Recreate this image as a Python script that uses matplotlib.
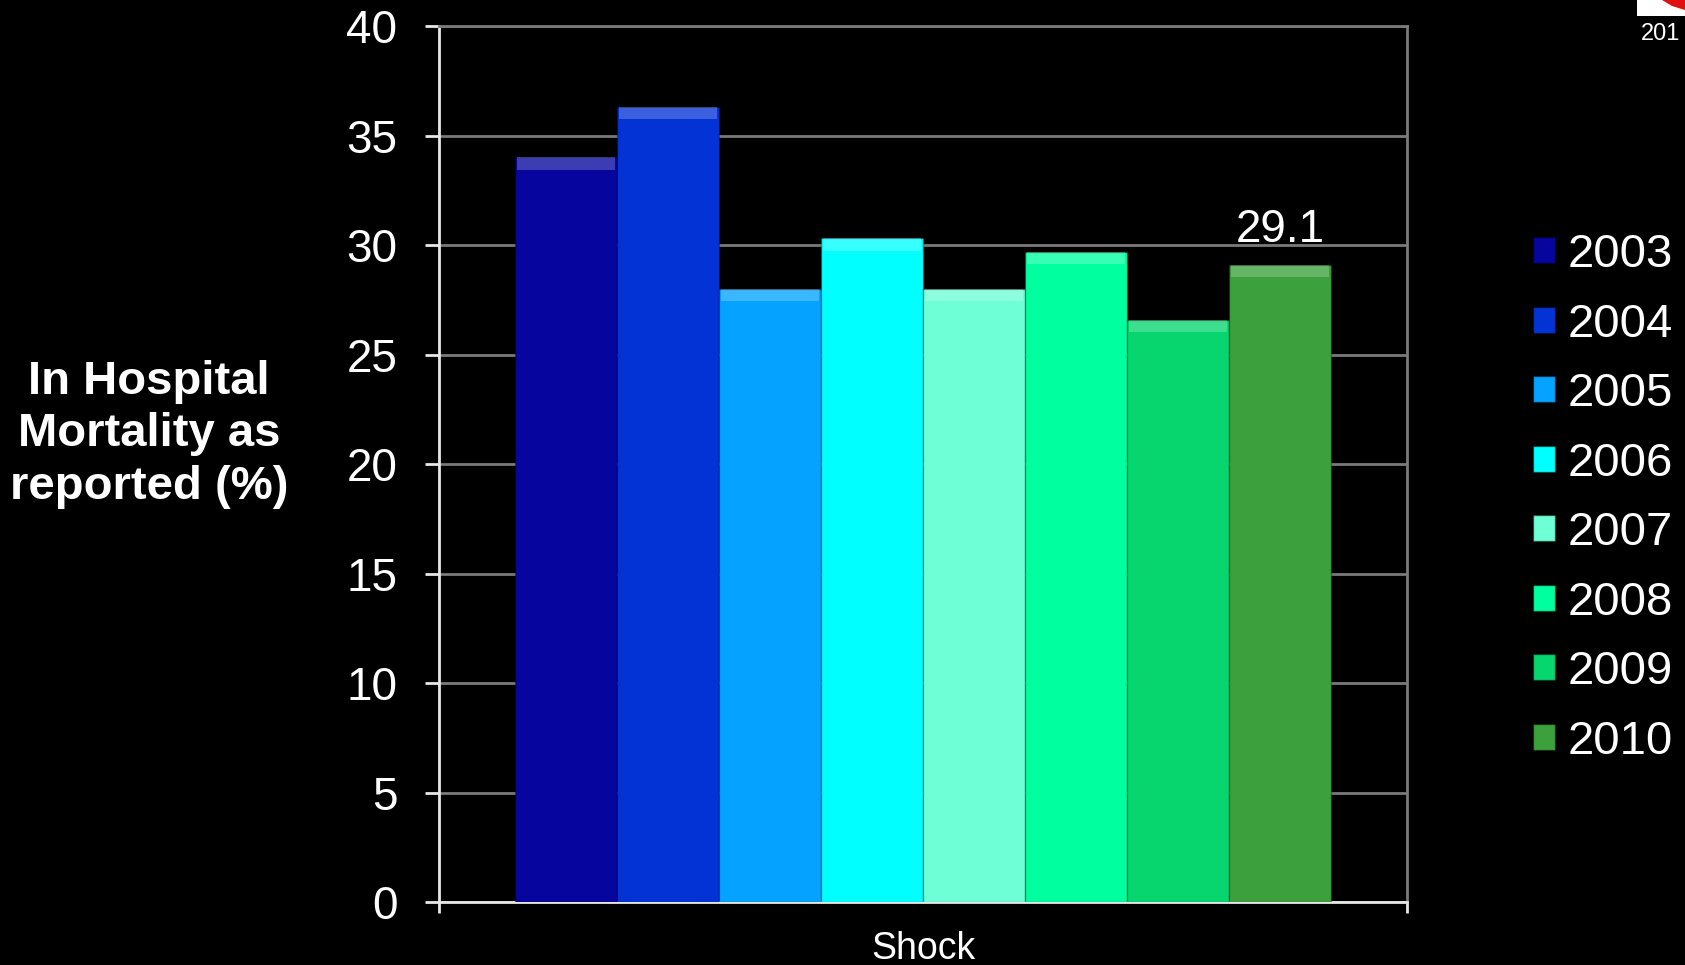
import matplotlib
matplotlib.use("Agg")
import matplotlib.pyplot as plt
from matplotlib.patches import Patch, Rectangle, Polygon
import numpy as np

years = ["2003", "2004", "2005", "2006", "2007", "2008", "2009", "2010"]
values = [34.0, 36.3, 28.0, 30.3, 28.0, 29.7, 26.6, 29.1]
colors = ["#06069E", "#0433D5", "#05A3FF", "#00FFFF", "#6EFFD6", "#00FF9E", "#07D66F", "#3CA13C"]
category = "Shock"
yticks = [0, 5, 10, 15, 20, 25, 30, 35, 40]
label_value = "29.1"

plt.rcParams['font.family'] = ['Liberation Sans', 'DejaVu Sans']

fig = plt.figure(figsize=(16.85, 9.65), dpi=100, facecolor="black")
ax = fig.add_axes([0.2605, 0.0652, 0.5748, 0.9078])
ax.set_facecolor("black")

group = 0.842
w = group / len(values)
xs = -group / 2 + w / 2 + np.arange(len(values)) * w
bars = ax.bar(xs, values, width=w, color=colors, edgecolor=(0, 0, 0, 0.25), linewidth=1, zorder=3)
# bevel highlight on top
ax.bar(xs, [0.55] * len(values), bottom=[v - 0.55 for v in values], width=w * 0.96,
       color=(1, 1, 1, 0.22), linewidth=0, zorder=4)

ax.set_xlim(-0.5, 0.5)
ax.set_ylim(0, 40)
ax.set_yticks(yticks)
ax.set_yticklabels([str(t) for t in yticks])
ax.grid(axis="y", color="#7a7a7a", linewidth=2, zorder=0)

ax.set_xticks([0])
ax.set_xticklabels([category])
ax.set_xticks([-0.5, 0.5], minor=True)
ax.tick_params(axis="x", which="major", length=0, pad=21, labelsize=27, labelcolor="white")
ax.tick_params(axis="x", which="minor", length=8, width=2, color="#e8e8e8")
ax.tick_params(axis="y", length=10, width=2, color="#e8e8e8", pad=20, labelsize=33, labelcolor="white")

for s in ["left", "bottom"]:
    ax.spines[s].set_color("#e8e8e8")
    ax.spines[s].set_linewidth(2)
for s in ["top", "right"]:
    ax.spines[s].set_color("#7a7a7a")
    ax.spines[s].set_linewidth(2)

ax.annotate(label_value, (xs[-1], values[-1]), xytext=(0, 9), textcoords="offset points",
            ha="center", va="bottom", color="white", fontsize=33, zorder=5)

fig.text(0.0885, 0.55, "In Hospital\nMortality as\nreported (%)", color="white", fontsize=34,
         fontweight="bold", ha="center", va="center", linespacing=1.25)

handles = [Patch(facecolor=c, edgecolor=(0, 0, 0, 0.4)) for c in colors]
leg = fig.legend(handles, years, loc="upper left", bbox_to_anchor=(0.9095, 0.7585),
                 frameon=False, fontsize=34, labelcolor="white",
                 handlelength=0.48, handleheight=0.48, handletextpad=0.27,
                 labelspacing=0.54, borderaxespad=0, borderpad=0)

# top-right corner decoration
fig.patches.append(Rectangle((1637 / 1685, 1 - 16 / 965), 48 / 1685, 16 / 965,
                             transform=fig.transFigure, facecolor="white", edgecolor="none"))
fig.patches.append(Polygon([(1662 / 1685, 1), (1685 / 1685, 1), (1685 / 1685, 1 - 10 / 965), (1672 / 1685, 1 - 6 / 965)],
                           closed=True, transform=fig.transFigure, facecolor="#e01010", edgecolor="none"))
fig.text(1641 / 1685, 1 - 34 / 965, "201", color="white", fontsize=17, ha="left", va="center")

fig.savefig("out.png", dpi=100, facecolor="black")
